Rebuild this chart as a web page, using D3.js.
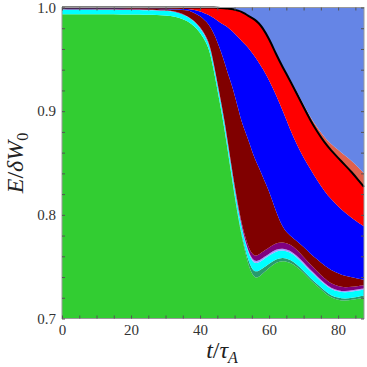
<!DOCTYPE html>
<html>
<head>
<meta charset="utf-8">
<script src="https://cdn.jsdelivr.net/npm/d3@7"></script>
<style>
  body { margin: 0; background: #fff; }
  .ticklab text { font-family: "Liberation Serif", serif; font-size: 15px; fill: #333; }
  .minor line { stroke: #555; }
</style>
</head>
<body>
<script>
// time samples (t / tau_A)
var tVals = [0,10,20,25,30, 33,36,38,40,42, 43,44,45,46,47, 48,49,50,51,52,
             53,54,55,56,57, 58,60,62,64,66, 68,70,72,74,76, 78,80,82,84,86, 87.5];

// energy of each stacked component (fraction of dW0), bottom to top
var greenVals = [0.9935,0.9934,0.9932,0.9930,0.9925, 0.9912,0.9875,0.983,0.976,0.965,
                 0.955,0.939,0.921,0.903,0.884, 0.862,0.840,0.818,0.798,0.780,
                 0.765,0.752,0.743,0.739,0.740, 0.743,0.749,0.754,0.756,0.754,
                 0.750,0.744,0.737,0.731,0.725, 0.720,0.718,0.717,0.718,0.719, 0.720];
var tealVals = [0,0,0,0,0, 0,0,0,0,0, 0,0,0.0003,0.0005,0.0007,
                0.001,0.0012,0.0015,0.0017,0.002, 0.003,0.004,0.005,0.006,0.006,
                0.005,0.004,0.0035,0.003,0.003, 0.0025,0.002,0.002,0.002,0.002,
                0.002,0.002,0.002,0.002,0.002, 0.002];
var cyanVals = [0.0045,0.0045,0.0045,0.0045,0.0045, 0.0045,0.0045,0.0045,0.0046,0.0048,
                0.005,0.005,0.0052,0.0055,0.0057, 0.006,0.006,0.0062,0.0065,0.0068,
                0.007,0.0075,0.008,0.008,0.008, 0.008,0.0078,0.0075,0.007,0.007,
                0.0068,0.0065,0.0063,0.0062,0.006, 0.006,0.006,0.006,0.006,0.006, 0.006];
var lavenderVals = [0.0002,0.0002,0.0002,0.0002,0.0002, 0.0002,0.0002,0.0003,0.0004,0.0005,
                    0.0005,0.0005,0.0005,0.0005,0.0008, 0.0008,0.0008,0.0008,0.001,0.001,
                    0.001,0.0015,0.002,0.002,0.002, 0.002,0.0018,0.0018,0.0018,0.0018,
                    0.0015,0.0015,0.0015,0.0015,0.0012, 0.0012,0.0012,0.0012,0.0012,0.0012, 0.0012];
var purpleVals = [0.0003,0.0003,0.0003,0.0003,0.0003, 0.0003,0.0003,0.0004,0.0006,0.0008,
                  0.0009,0.001,0.0011,0.0012,0.0014, 0.0016,0.0018,0.002,0.0025,0.003,
                  0.0035,0.004,0.0045,0.005,0.0055, 0.006,0.006,0.006,0.006,0.006,
                  0.0058,0.0055,0.005,0.0048,0.0045, 0.0042,0.004,0.0037,0.0035,0.0032, 0.003];
var darkredVals = [0.0003,0.0004,0.0005,0.0006,0.0009, 0.0018,0.005,0.0073,0.0104,0.0149,
                   0.0196,0.0295,0.0389,0.0473,0.0554, 0.0656,0.0772,0.0875,0.0933,0.0972,
                   0.1015,0.103,0.0995,0.093,0.0845, 0.074,0.0544,0.0302,0.0132,0.0082,
                   0.0084,0.0095,0.0105,0.0115,0.0125, 0.013,0.0125,0.011,0.009,0.007, 0.005];
var blueVals = [0.0004,0.0004,0.0004,0.0004,0.0006, 0.0008,0.001,0.0025,0.0045,0.0075,
                0.011,0.015,0.0205,0.027,0.035, 0.044,0.051,0.059,0.0685,0.078,
                0.0835,0.089,0.0945,0.099,0.101, 0.104,0.107,0.113,0.113,0.103,
                0.093,0.086,0.0817,0.076,0.0718, 0.0686,0.0643,0.0611,0.0573,0.0536, 0.0518];
var redVals = [0.0008,0.0008,0.0009,0.001,0.001, 0.0012,0.0015,0.002,0.0035,0.0065,
               0.008,0.010,0.0123,0.0146,0.0163, 0.018,0.0205,0.023,0.0255,0.028,
               0.0295,0.031,0.0335,0.036,0.038, 0.039,0.040,0.039,0.042,0.047,
               0.049,0.049,0.047,0.047,0.047, 0.047,0.047,0.046,0.044,0.041, 0.038];
var salmonVals = [0,0,0,0,0, 0,0,0,0,0, 0,0,0,0,0, 0,0,0,0,0, 0,0,0,0,0,
                  0,0.0003,0.0006,0.001,0.0015, 0.002,0.0025,0.003,0.004,0.005,
                  0.006,0.008,0.009,0.011,0.012, 0.013];
var restVals = [0,0,0,0,0, 0,0,0,0,0, 0,0,0.0002,0.0004,0.0007,
                0.001,0.0015,0.002,0.003,0.004, 0.006,0.008,0.010,0.012,0.015,
                0.019,0.0297,0.0444,0.057,0.0685, 0.081,0.0935,0.106,0.116,0.125,
                0.132,0.137,0.143,0.148,0.155, 0.160];

var xTickVals = [0, 20, 40, 60, 80];
var yTickVals = [0.7, 0.8, 0.9, 1.0];

(function(){

    var keys = ["green","teal","cyan","lavender","purple","darkred","blue","red","salmon","rest"];
    var colors = {
        green: "#32cd32", teal: "#2a9a6c", cyan: "#00ffff", lavender: "#a0a0ff",
        purple: "#800080", darkred: "#800000", blue: "#0000ff", red: "#ff0000",
        salmon: "#e0604c", rest: "#6585e6"
    };

    var W = 367, H = 367;
    var pLeft = 62, pRight = 364, pTop = 7.5, pBottom = 318.5;

    var rows = tVals.map(function(t, i){
        return {t: t, green: greenVals[i], teal: tealVals[i], cyan: cyanVals[i],
                lavender: lavenderVals[i], purple: purpleVals[i], darkred: darkredVals[i],
                blue: blueVals[i], red: redVals[i], salmon: salmonVals[i], rest: restVals[i]};
    });

    var x = d3.scaleLinear().domain([0, 87.5]).range([pLeft, pRight]);
    var y = d3.scaleLinear().domain([0.7, 1.0]).range([pBottom, pTop]);

    var svg = d3.select("body").append("svg")
        .attr("width", W)
        .attr("height", H);

    svg.append("clipPath").attr("id", "plotclip")
        .append("rect")
        .attr("x", pLeft).attr("y", pTop)
        .attr("width", pRight - pLeft).attr("height", pBottom - pTop);

    var series = d3.stack().keys(keys)(rows);

    var area = d3.area()
        .curve(d3.curveBasis)
        .x(function(d){ return x(d.data.t); })
        .y0(function(d){ return y(d[0]); })
        .y1(function(d){ return y(d[1]); });

    var plot = svg.append("g").attr("clip-path", "url(#plotclip)");

    plot.selectAll(".layer")
        .data(series)
        .enter()
        .append("path")
        .attr("class", "layer")
        .attr("d", area)
        .style("fill", function(d){ return colors[d.key]; });

    // total energy curve = top of the red layer
    var redSeries = series[keys.indexOf("red")];
    var line = d3.line()
        .curve(d3.curveBasis)
        .x(function(d){ return x(d.data.t); })
        .y(function(d){ return y(d[1]); });

    svg.append("path")
        .datum(redSeries)
        .attr("d", line)
        .style("fill", "none")
        .style("stroke", "#000")
        .style("stroke-width", 2);

    // frame
    svg.append("rect")
        .attr("x", pLeft).attr("y", pTop)
        .attr("width", pRight - pLeft).attr("height", pBottom - pTop)
        .style("fill", "none")
        .style("stroke", "#999")
        .style("stroke-width", 1);

    // minor inner ticks
    var xMinor = d3.range(0, 87.5, 5),
        yMinor = d3.range(0.7, 1.0001, 0.02);

    function minor(axis, tx, ty){
        var g = svg.append("g")
            .attr("class", "minor")
            .attr("transform", "translate(" + tx + "," + ty + ")")
            .call(axis.tickSizeInner(-3).tickSizeOuter(0).tickFormat(""));
        g.select(".domain").remove();
    }
    minor(d3.axisBottom(x).tickValues(xMinor), 0, pBottom);
    minor(d3.axisTop(x).tickValues(xMinor), 0, pTop);
    minor(d3.axisLeft(y).tickValues(yMinor), pLeft, 0);
    minor(d3.axisRight(y).tickValues(yMinor), pRight, 0);

    // tick labels
    var xl = svg.append("g")
        .attr("class", "ticklab")
        .attr("transform", "translate(0," + pBottom + ")")
        .call(d3.axisBottom(x).tickValues(xTickVals).tickSize(0).tickPadding(6));
    xl.select(".domain").remove();

    var yl = svg.append("g")
        .attr("class", "ticklab")
        .attr("transform", "translate(" + pLeft + ",0)")
        .call(d3.axisLeft(y).tickValues(yTickVals).tickFormat(d3.format(".1f")).tickSize(0).tickPadding(6));
    yl.select(".domain").remove();

    // axis titles
    var xt = svg.append("text")
        .attr("x", 222)
        .attr("y", 358)
        .attr("text-anchor", "middle")
        .style("font-family", "'Liberation Serif', serif")
        .style("font-size", "24px")
        .style("fill", "#222");
    xt.append("tspan").style("font-style", "italic").text("t");
    xt.append("tspan").text("/");
    xt.append("tspan").style("font-style", "italic").text("τ");
    xt.append("tspan").style("font-style", "italic").style("font-size", "16px").attr("dy", 5).text("A");

    var yt = svg.append("text")
        .attr("transform", "translate(23,163) rotate(-90)")
        .attr("text-anchor", "middle")
        .style("font-family", "'Liberation Serif', serif")
        .style("font-size", "24px")
        .style("fill", "#222");
    yt.append("tspan").style("font-style", "italic").text("E");
    yt.append("tspan").text("/");
    yt.append("tspan").style("font-style", "italic").text("δW");
    yt.append("tspan").style("font-size", "16px").attr("dy", 5).text("0");

})();
</script>
</body>
</html>
